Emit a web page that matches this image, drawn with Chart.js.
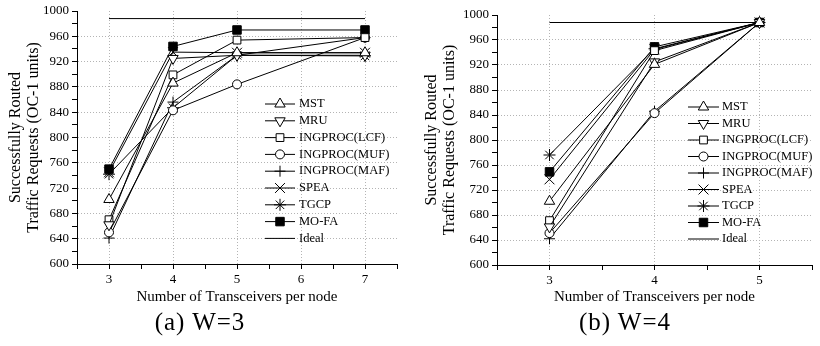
<!DOCTYPE html>
<html><head><meta charset="utf-8">
<script src="https://cdn.jsdelivr.net/npm/chart.js@4"></script>
<style>
html,body{margin:0;padding:0;background:#fff;}
#wrap{position:relative;width:820px;height:346px;overflow:hidden;background:#fff;}
.c{position:absolute;top:0;}
.cap{position:absolute;top:308px;font-family:"Liberation Serif",serif;font-size:25px;color:#000;text-align:center;width:220px;letter-spacing:1px;}
</style></head><body>
<div id="wrap">
<canvas id="ca" class="c" style="left:0" width="410" height="310"></canvas>
<canvas id="cb" class="c" style="left:410px" width="410" height="310"></canvas>
<div class="cap" style="left:90px">(a) W=3</div>
<div class="cap" style="left:515px">(b) W=4</div>
</div>
<script>
// ---- data ----
const seriesNames = ['MST','MRU','INGPROC(LCF)','INGPROC(MUF)','INGPROC(MAF)','SPEA','TGCP','MO-FA'];
const idealName = 'Ideal';

// (a) W=3
const xA = [3, 4, 5, 7];
const mstA  = [702, 886, 934, 934];
const mruA  = [662, 925, 930, 930];
const lcfA  = [670, 899, 954, 958];
const mufA  = [650, 843, 884, 958];
const mafA  = [641, 856, 930, 958];
const speaA = [745, 935, 934, 934];
const tgcpA = [742, 847, 930, 929];
const mofaA = [750, 944, 970, 970];
const idealXA = [3, 7];
const idealA = [988, 988];

// (b) W=4
const xB = [3, 4, 5];
const mstB  = [702, 921, 988];
const mruB  = [661, 925, 988];
const lcfB  = [671, 943, 988];
const mufB  = [651, 843, 988];
const mafB  = [642, 846, 988];
const speaB = [737, 945, 988];
const tgcpB = [776, 946, 988];
const mofaB = [749, 949, 988];
const idealXB = [3, 5];
const idealB = [988, 988];

const yTickMin = 600, yTickMax = 1000, yLabelStep = 40;
const xLabelsA = [3, 4, 5, 6, 7];
const xLabelsB = [3, 4, 5];

// ---- styles ----
const markers = [
  {pointStyle:'triangle', rotation:0,   radius:6,   fill:'#fff'},
  {pointStyle:'triangle', rotation:180, radius:6,   fill:'#fff'},
  {pointStyle:'rect',     rotation:0,   radius:5.5, fill:'#fff'},
  {pointStyle:'circle',   rotation:0,   radius:4.5, fill:'#fff'},
  {pointStyle:'cross',    rotation:0,   radius:5.5, fill:'#fff'},
  {pointStyle:'crossRot', rotation:0,   radius:7,   fill:'#fff'},
  {pointStyle:'star',     rotation:0,   radius:6,   fill:'#fff'},
  {pointStyle:'rect',     rotation:0,   radius:6,   fill:'#000'}
];

function buildDatasets(xs, seriesList, idealX, idealY) {
  const ds = seriesList.map((vals, i) => ({
    label: seriesNames[i],
    data: vals.map((v, k) => ({x: xs[k], y: v})),
    borderColor: '#000',
    borderWidth: 1,
    pointStyle: markers[i].pointStyle,
    pointRotation: markers[i].rotation,
    pointRadius: markers[i].radius,
    pointHoverRadius: markers[i].radius,
    pointBackgroundColor: markers[i].fill,
    pointBorderColor: '#000',
    pointBorderWidth: 1,
    tension: 0,
    fill: false
  }));
  ds.push({
    label: idealName,
    data: idealY.map((v, k) => ({x: idealX[k], y: v})),
    borderColor: '#000',
    borderWidth: 1,
    pointRadius: 0,
    pointBackgroundColor: '#000',
    tension: 0,
    fill: false
  });
  return ds;
}

const legendPlugin = {
  id: 'inLegend',
  afterDatasetsDraw(chart, args, opts) {
    const ctx = chart.ctx;
    ctx.save();
    ctx.font = opts.font;
    ctx.textBaseline = 'middle';
    ctx.textAlign = 'left';
    chart.data.datasets.forEach((ds, i) => {
      const y = opts.y + i * opts.dy;
      ctx.strokeStyle = '#000';
      ctx.lineWidth = 1;
      ctx.setLineDash([]);
      ctx.beginPath(); ctx.moveTo(opts.x0, y); ctx.lineTo(opts.x1, y); ctx.stroke();
      if (ds.pointRadius > 0 && Chart.helpers && Chart.helpers.drawPoint) {
        ctx.fillStyle = ds.pointBackgroundColor;
        ctx.strokeStyle = '#000';
        Chart.helpers.drawPoint(ctx, {pointStyle: ds.pointStyle, rotation: ds.pointRotation || 0,
          radius: ds.pointRadius, borderWidth: 1}, (opts.x0 + opts.x1) / 2, y);
      }
      ctx.fillStyle = '#000';
      ctx.fillText(ds.label, opts.tx, y);
    });
    ctx.restore();
  }
};

const SERIF = '"Liberation Serif", "Times New Roman", serif';

function makeChart(id, xs, seriesList, idealX, idealY, xmin, xmax, labelVals, lay, leg) {
  return new Chart(document.getElementById(id), {
    type: 'line',
    data: {datasets: buildDatasets(xs, seriesList, idealX, idealY)},
    plugins: [legendPlugin],
    options: {
      responsive: false,
      animation: false,
      devicePixelRatio: 1,
      layout: {padding: {left: lay.left, right: lay.right, top: lay.top, bottom: 0}},
      plugins: {
        legend: {display: false},
        tooltip: {enabled: false},
        inLegend: leg
      },
      scales: {
        x: {
          type: 'linear', min: xmin, max: xmax,
          afterFit: s => { s.height = lay.xh; },
          ticks: {stepSize: 0.5, autoSkip: false, maxRotation: 0, padding: 3,
            color: '#000', font: {family: SERIF, size: 13},
            callback: v => labelVals.includes(v) ? String(v) : ''},
          grid: {
            color: c => (c.tick && labelVals.includes(c.tick.value)) ? '#b4b4b4' : 'rgba(0,0,0,0)',
            tickColor: '#000', tickLength: 5, lineWidth: 1, drawTicks: true
          },
          border: {display: true, color: '#000', width: 1, dash: [1, 2]},
          title: {display: true, text: 'Number of Transceivers per node', color: '#000',
            font: {family: SERIF, size: 15}, padding: {top: 0, bottom: 4}}
        },
        y: {
          type: 'linear', min: yTickMin, max: yTickMax,
          afterFit: s => { s.width = lay.yw; },
          ticks: {stepSize: 20, autoSkip: false, padding: 3, color: '#000',
            font: {family: SERIF, size: 13},
            callback: v => (v % yLabelStep === 0) ? String(v) : ''},
          grid: {
            color: c => (c.tick && c.tick.value % yLabelStep === 0 && c.tick.value !== yTickMin && c.tick.value !== yTickMax) ? '#b4b4b4' : 'rgba(0,0,0,0)',
            tickColor: '#000', tickLength: 5, lineWidth: 1, drawTicks: true
          },
          border: {display: true, color: '#000', width: 1, dash: [1, 2]},
          title: {display: true, text: ['Successfully Routed', 'Traffic Requests (OC-1 units)'], color: '#000',
            font: {family: SERIF, size: 16, lineHeight: 1.1}, padding: {top: 0, bottom: 0}}
        }
      }
    }
  });
}

makeChart('ca', xA, [mstA, mruA, lcfA, mufA, mafA, speaA, tgcpA, mofaA], idealXA, idealA,
  2.5, 7.5, xLabelsA,
  {left: 7, right: 13, top: 11, xh: 46, yw: 70},
  {x0: 265, x1: 295, tx: 299, y: 104, dy: 16.8, font: '12.5px ' + SERIF});

makeChart('cb', xB, [mstB, mruB, lcfB, mufB, mafB, speaB, tgcpB, mofaB], idealXB, idealB,
  2.5, 5.5, xLabelsB,
  {left: 13, right: 7, top: 15, xh: 45, yw: 74},
  {x0: 278, x1: 309, tx: 312, y: 107, dy: 16.5, font: '12.5px ' + SERIF});
</script>
</body></html>
